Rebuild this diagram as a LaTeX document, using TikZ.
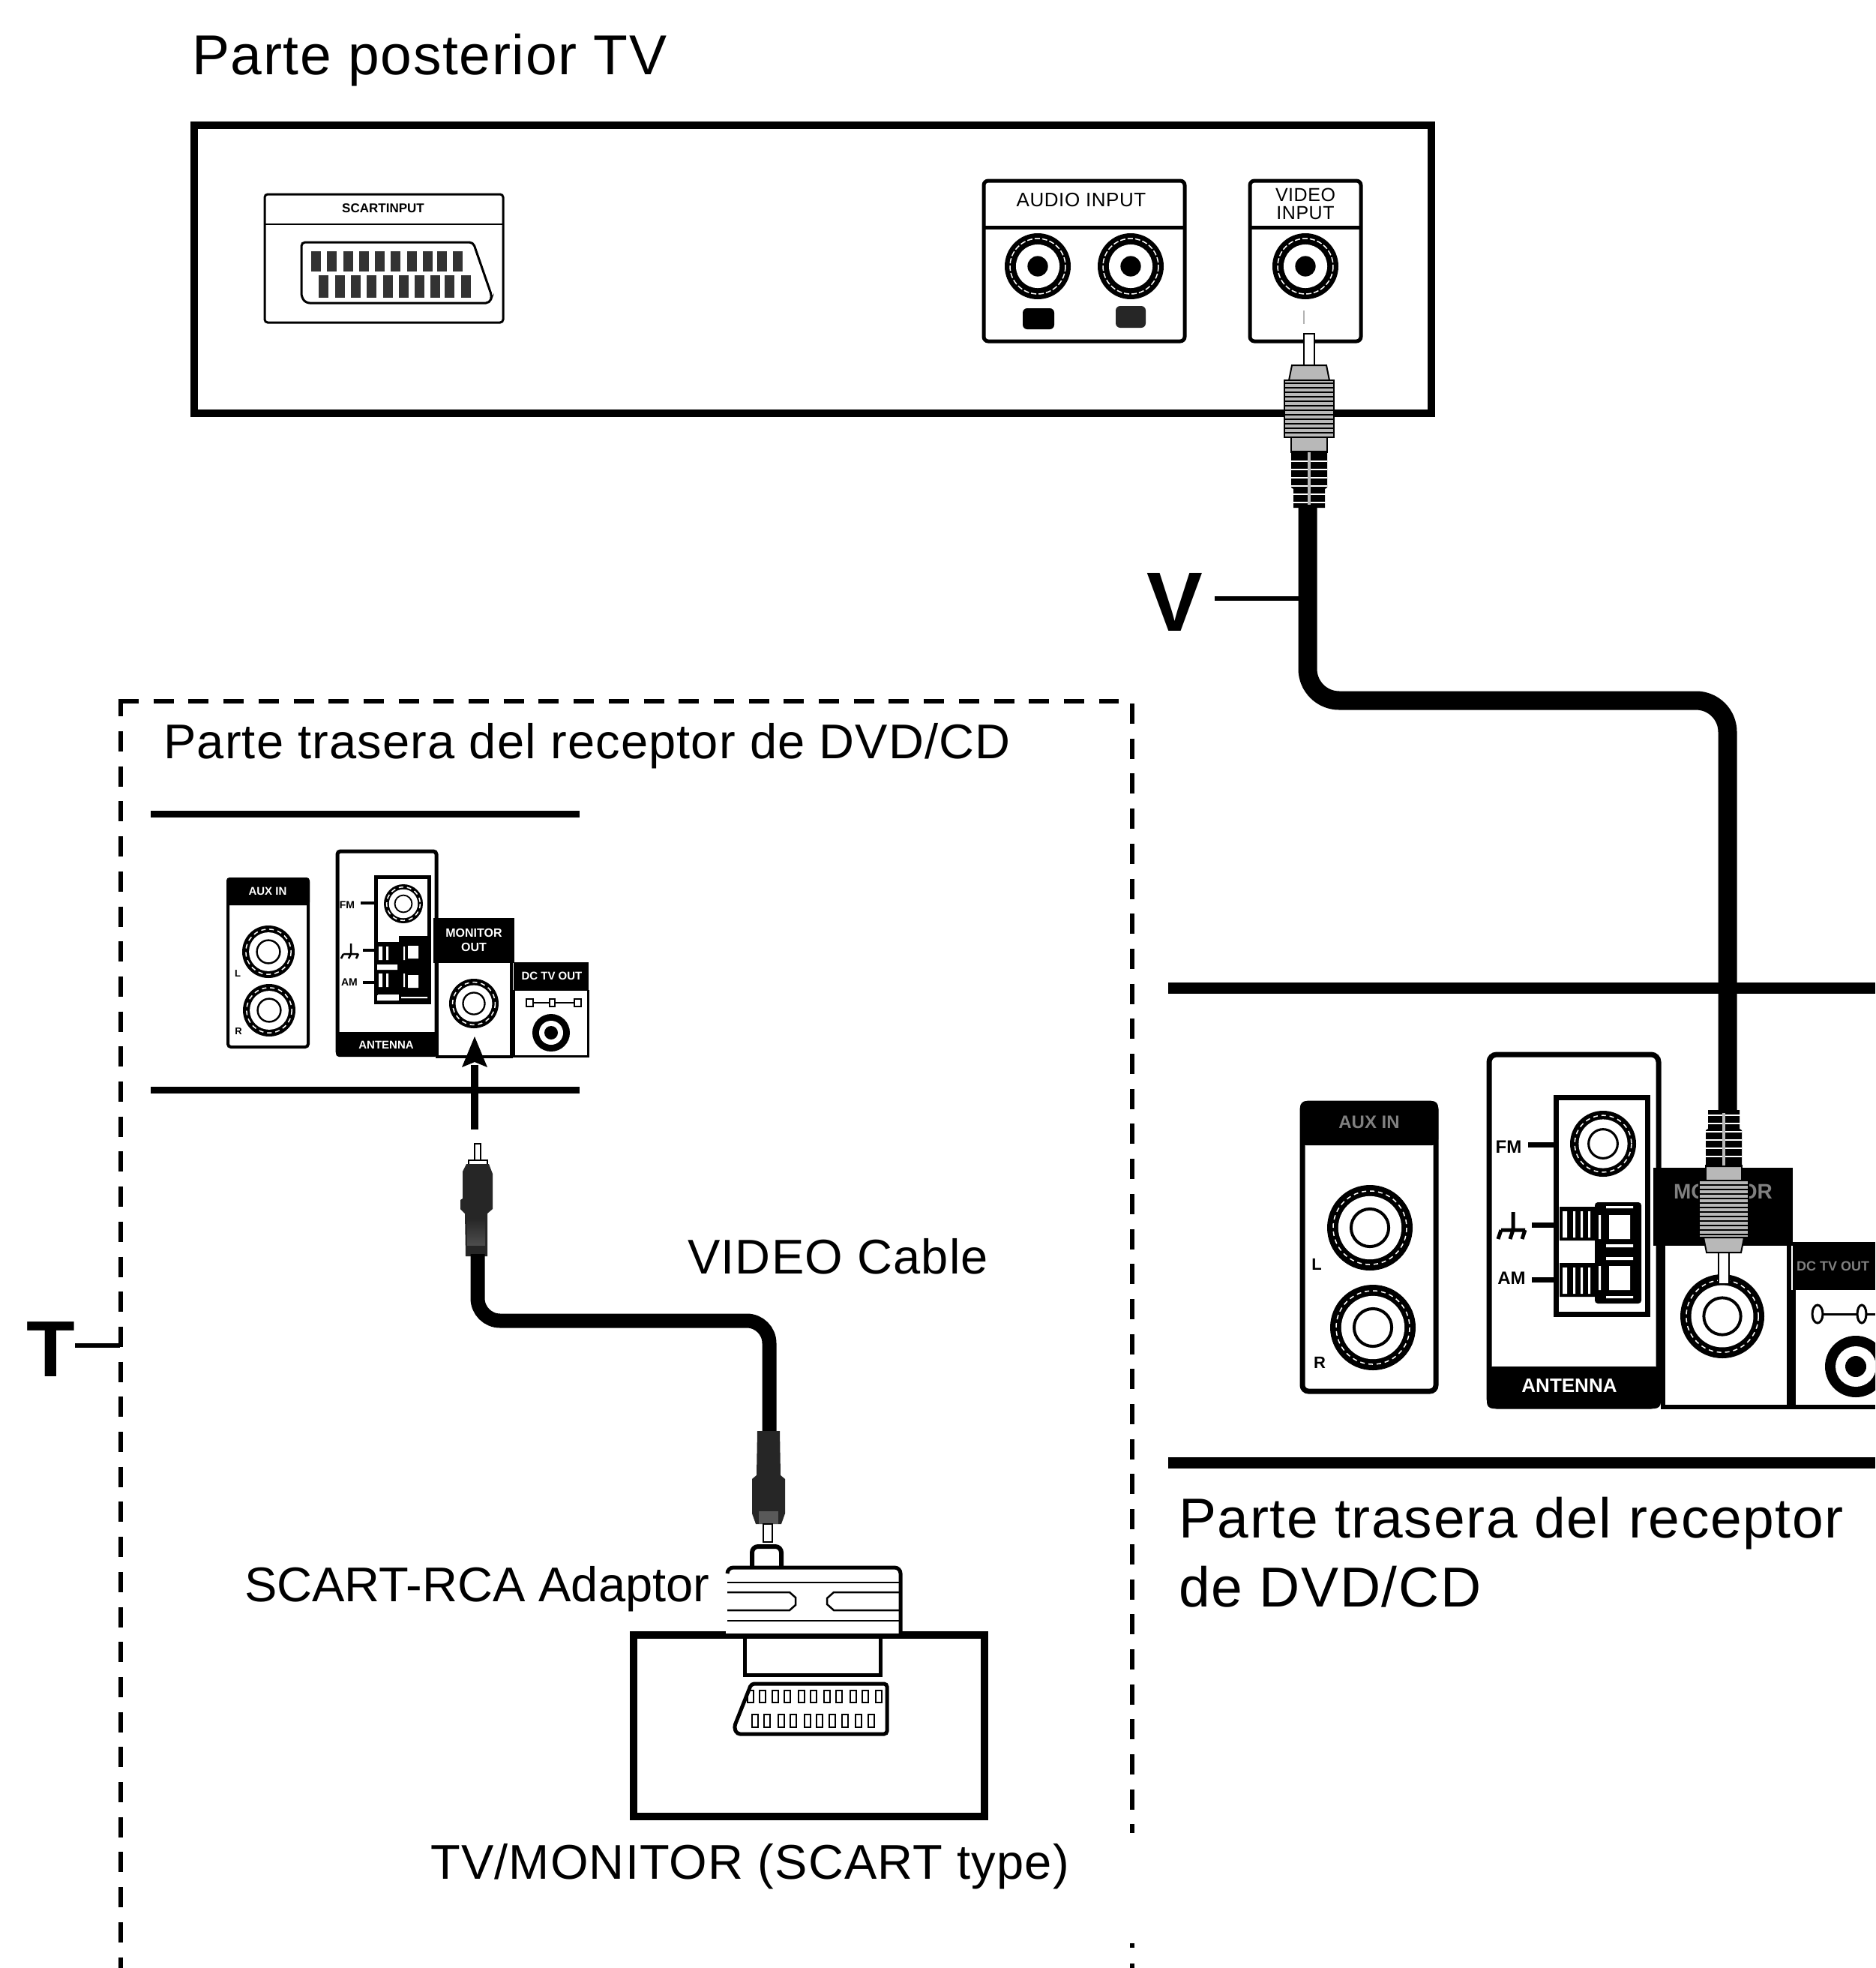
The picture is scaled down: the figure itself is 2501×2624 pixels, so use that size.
\documentclass[tikz,border=0pt]{standalone}
\usepackage{fontspec}
\setmainfont{Liberation Sans}
\newfontfamily\spaced[LetterSpace=1.8]{Liberation Sans}
\newfontfamily\spacedb[LetterSpace=2.2]{Liberation Sans}
\newcommand{\fsz}[1]{\fontsize{#1}{#1}\selectfont}
% TV-type jack: black centre
\newcommand{\jackA}[3]{%
  \fill[black] (#1,#2) circle[radius=#3];
  \draw[white,line width=1.5pt,dash pattern=on 7pt off 3pt] (#1,#2) circle[radius=#3*0.84];
  \fill[white] (#1,#2) circle[radius=#3*0.66];
  \fill[black] (#1,#2) circle[radius=#3*0.31];}
% receiver jack: thin inner ring
\newcommand{\jackB}[3]{%
  \fill[black] (#1,#2) circle[radius=#3];
  \draw[white,line width=1.5pt,dash pattern=on 6pt off 5pt] (#1,#2) circle[radius=#3*0.86];
  \fill[white] (#1,#2) circle[radius=#3*0.74];
  \draw[black,line width=#3*0.07] (#1,#2) circle[radius=#3*0.44];}
% big plug, origin at pin tip, local y towards the cable
\newcommand{\bigplug}[3]{%
\begin{scope}[shift={(#1,#2)},yscale=#3]
  \filldraw[fill=white,draw=black,line width=1.5pt] (-7,0) rectangle (7,42);
  \filldraw[fill=plggray,draw=black,line width=2pt] (-23,42) -- (-27,62) -- (27,62) -- (23,42) -- cycle;
  \filldraw[fill=plggray,draw=black,line width=2pt] (-33,62) rectangle (33,138);
  \foreach \yy in {66,72,...,136}{\draw[black,line width=2pt] (-33,\yy) -- (33,\yy);}
  \filldraw[fill=plggray,draw=black,line width=2pt] (-24,138) rectangle (24,158);
  \fill[black] (-24,156) -- (24,156) -- (24,205) -- (21,207) -- (21,232) -- (-21,232) -- (-21,207) -- (-24,205) -- cycle;
  \foreach \yy in {170,181,...,225}{\draw[white,line width=2pt] (-24,\yy) -- (24,\yy);}
  \draw[plggray,line width=4pt] (0,158) -- (0,228);
\end{scope}}
\definecolor{plggray}{gray}{0.72}
\tikzset{
  txt/.style={anchor=west,inner sep=0pt,text=black},
  tinywhite/.style={inner sep=0pt,text=white,font=\bfseries},
  tinyblack/.style={inner sep=0pt,text=black,font=\bfseries},
  thinpanel/.style={draw=black,line width=3pt,rounded corners=4pt,fill=white},
  panel/.style={draw=black,line width=5pt,rounded corners=6pt,fill=white},
  heavy/.style={draw=black,line width=10pt},
  rule/.style={draw=black,line width=15pt},
  cable/.style={draw=black,line width=25pt,rounded corners=42pt},
  smallcable/.style={draw=black,line width=19pt,rounded corners=30pt},
  leader/.style={draw=black,line width=6pt},
  dashbox/.style={draw=black,line width=6pt,dash pattern=on 27pt off 19.7pt}
}
\begin{document}
\begin{tikzpicture}[x=1pt,y=-1pt]
\useasboundingbox (0,0) rectangle (2501,2624);
\fill[white] (0,0) rectangle (2501,2624);

% ---- TV rear ----
\node[txt,font=\spacedb\fsz{75}] (tvlabel) at (256,80) {Parte posterior TV};
\draw[heavy] (259,167) rectangle (1909,551);
% SCART input
\draw[thinpanel] (353,259) rectangle (671,430);
\draw[black,line width=2.5pt] (353,299) -- (671,299);
\node[tinyblack,font=\bfseries\fsz{17}] (scartlabel) at (511,278) {SCARTINPUT};
\draw[black,line width=3pt,rounded corners=5pt] (402,323) -- (631,323) -- (656,395) -- (653,404) -- (408,404) -- (402,396) -- cycle;
\foreach \xx in {421,442,464,485,506,527,549,570,589,610}{\fill[black!80] (\xx-6.5,335) rectangle (\xx+6.5,362);}
\foreach \xx in {431,453,474,495,517,538,559,580,599,621}{\fill[black!80] (\xx-6.5,367) rectangle (\xx+6.5,397);}
% Audio input
\draw[panel] (1312,241) rectangle (1580,455);
\draw[black,line width=5pt] (1312,303) -- (1580,303);
\node[inner sep=0pt,font=\spacedb\fsz{26}] (audiolabel) at (1442,267) {AUDIO INPUT};
\jackA{1384}{355}{44}
\jackA{1508}{355}{44}
\fill[black,rounded corners=6pt] (1364,411) rectangle (1406,439);
\fill[black!85,rounded corners=6pt] (1488,408) rectangle (1528,437);
% Video input
\draw[panel] (1667,241) rectangle (1815,455);
\draw[black,line width=5pt] (1667,303) -- (1815,303);
\node[inner sep=0pt,font=\spacedb\fsz{25},align=center] (videolabel) at (1741,272) {VIDEO\\[-1pt]INPUT};
\jackA{1741}{355}{44}
\draw[black!30,line width=2pt] (1739,414) -- (1739,432);
\bigplug{1746}{445}{1}

% ---- main cable ----
\coordinate (plugtop) at (1744,675);
\coordinate (plugbot) at (2304,1480);
\draw[cable] (plugtop) -- (1744,934) -- (2304,934) -- (plugbot);
\node[inner sep=0pt,font=\bfseries\fsz{112}] (vlabel) at (1567,803) {V};
\coordinate (vend) at (1733,798);
\draw[leader] (1620,798) -- (vend);

% ---- dashed box ----
\draw[dashbox,dash phase=4.7pt] (160.5,933) -- (160.5,2624);
\draw[dashbox] (158,935) -- (1492,935);
\draw[dashbox] (1510,938) -- (1510,2444);
\draw[black,line width=6pt] (1510,2591) -- (1510,2597) (1510,2618) -- (1510,2624);
\node[inner sep=0pt,font=\bfseries\fsz{106}] (tlabel) at (68,1799) {T};
\coordinate (tend) at (160,1794);
\draw[leader] (100,1794) -- (tend);
\node[txt,font=\spaced\fsz{65}] (rearsmall) at (218,995) {Parte trasera del receptor de DVD/CD};

% ---- small receiver rear ----
\draw[black,line width=9pt] (201,1085) -- (773,1085);
\draw[black,line width=9pt] (201,1453) -- (773,1453);
% AUX
\draw[thinpanel,line width=4pt] (304,1172) rectangle (411,1396);
\fill[black,rounded corners=4pt] (302,1170) rectangle (413,1207);
\node[tinywhite,font=\bfseries\fsz{15}] (auxs) at (357,1188) {AUX IN};
\jackB{358}{1269}{35}
\jackB{359}{1347}{35}
\node[tinyblack,font=\bfseries\fsz{13}] (ls) at (317,1298) {L};
\node[tinyblack,font=\bfseries\fsz{13}] (rs) at (318,1375) {R};
% Antenna
\draw[thinpanel,line width=5pt] (450,1135) rectangle (582,1406);
\fill[black,rounded corners=4pt] (448,1376) rectangle (584,1409);
\node[tinywhite,font=\bfseries\fsz{15}] (ants) at (515,1393) {ANTENNA};
\draw[black,line width=5pt,fill=white] (501,1169) rectangle (572,1336);
\jackB{538}{1205}{26}
\fill[black] (532,1248) rectangle (571,1334);
\fill[black] (503,1256) rectangle (532,1326);
\fill[white] (505,1262) rectangle (510,1280) (515,1262) rectangle (518,1280) (505,1298) rectangle (510,1316) (515,1298) rectangle (518,1316) (503,1286) rectangle (530,1293) (538,1262) rectangle (540,1280) (538,1298) rectangle (540,1316);
\fill[white] (544,1261) rectangle (558,1278) (544,1300) rectangle (558,1317);
\fill[white] (503,1327) rectangle (530,1334) (535,1329) rectangle (570,1331);
\draw[black,line width=4pt] (481,1204) -- (501,1204) (484,1267) -- (501,1267) (484,1310) -- (501,1310);
\node[tinyblack,font=\bfseries\fsz{14}] (fms) at (463,1207) {FM};
\node[tinyblack,font=\bfseries\fsz{14}] (ams) at (466,1310) {AM};
\draw[black,line width=2.5pt] (468,1258) -- (468,1272) (458,1272) -- (478,1272) (458,1272) -- (455,1278) (468,1272) -- (465,1278) (478,1272) -- (475,1278);
% Monitor out
\draw[draw=black,line width=4pt,fill=white] (583,1283) -- (583,1409) -- (682,1409) -- (682,1283);
\fill[black] (578,1224) rectangle (686,1284);
\node[tinywhite,align=center,font=\bfseries\fsz{16}] (mons) at (632,1253) {MONITOR\\[3pt]OUT};
\jackB{632}{1338}{33}
% DC out
\draw[draw=black,line width=3pt,fill=white] (685,1320) -- (685,1408) -- (784,1408) -- (784,1320);
\fill[black] (685,1283) rectangle (785,1321);
\node[tinywhite,font=\bfseries\fsz{15}] (dcs) at (736,1301) {DC TV OUT};
\draw[black,line width=2pt] (706,1337) -- (770,1337);
\draw[black,line width=2pt,fill=white] (702,1332) rectangle (711,1342) (733,1332) rectangle (740,1342) (766,1332) rectangle (775,1342);
\fill[black] (735,1377) circle[radius=25];
\fill[white] (735,1377) circle[radius=16];
\fill[black] (735,1377) circle[radius=9];
% arrow
\coordinate (arrowtail) at (633,1506);
\coordinate (arrowneck) at (633,1420);
\draw[black,line width=10pt] (arrowtail) -- (arrowneck);
\fill[black] (633,1382) -- (650,1423) -- (633,1416) -- (616,1423) -- cycle;

% ---- small plug 1 ----
\filldraw[fill=white,draw=black,line width=1.5pt] (633,1525) rectangle (641,1549);
\filldraw[fill=white,draw=black,line width=1.5pt] (625,1547) rectangle (650,1553);
\fill[black!85] (622,1552) -- (652,1552) -- (657,1565) -- (657,1612) -- (650,1618) -- (650,1675) -- (621,1675) -- (620,1618) -- (614,1612) -- (614,1600) -- (617,1598) -- (617,1562) -- cycle;
\shade[top color=black!85,bottom color=black!70] (623,1625) rectangle (647,1660);

% ---- small cable ----
\coordinate (sp1) at (637,1672);
\coordinate (sp2) at (1026,1910);
\draw[smallcable] (sp1) -- (637,1761) -- (1026,1761) -- (sp2);

% ---- small plug 2 ----
\fill[black!85] (1010,1908) -- (1040,1908) -- (1041,1967) -- (1047,1972) -- (1047,2018) -- (1042,2032) -- (1008,2032) -- (1003,2018) -- (1003,1972) -- (1009,1967) -- cycle;
\fill[black!65] (1012,2015) rectangle (1038,2032);
\filldraw[fill=white,draw=black,line width=1.5pt] (1018,2032) rectangle (1030,2056);

% ---- labels ----
\node[txt,font=\spaced\fsz{65}] (vcable) at (917,1675) {VIDEO Cable};
\node[txt,font=\fsz{65}] (adaptor) at (326,2119) {SCART-RCA Adaptor};
\node[txt,font=\spaced\fsz{65}] (tvmon) at (574,2489) {TV/MONITOR (SCART type)};
\node[txt,font=\spacedb\fsz{75}] (rearbig1) at (1572,2031) {Parte trasera del receptor};
\node[txt,font=\spacedb\fsz{75}] (rearbig2) at (1572,2116) {de DVD/CD};

% ---- TV box + adaptor ----
\draw[heavy] (845,2180) rectangle (1313,2422);
\fill[white] (968,2092) rectangle (1201,2178);
\draw[black,line width=6pt,rounded corners=8pt] (1003,2090) -- (1003,2062) -- (1042,2062) -- (1042,2090);
\draw[black,line width=5pt,rounded corners=8pt] (970,2098) -- (970,2090) -- (1201,2090) -- (1201,2180);
\draw[black,line width=2.5pt] (970,2110) -- (1199,2110) (970,2161) -- (1199,2161);
\draw[black,line width=2.5pt] (970,2123) -- (1053,2123) -- (1061,2130) -- (1061,2140) -- (1053,2147) -- (970,2147);
\draw[black,line width=2.5pt] (1199,2123) -- (1112,2123) -- (1103,2131) -- (1103,2139) -- (1112,2147) -- (1199,2147);
\draw[black,line width=5pt] (993,2180) -- (993,2233) -- (1174,2233) -- (1174,2180);
% SCART plug
\draw[black,line width=5pt,rounded corners=4pt] (1002,2245) -- (1183,2245) -- (1183,2312) -- (983,2312) -- (979,2303) -- cycle;
\foreach \xx in {1001,1017,1034,1050,1069,1085,1103,1119,1138,1154,1172}{\draw[black,line width=2.5pt] (\xx-4,2254) rectangle (\xx+4,2270);}
\foreach \xx in {1007,1023,1042,1058,1077,1093,1110,1127,1145,1162}{\draw[black,line width=2.5pt] (\xx-4,2286) rectangle (\xx+4,2303);}

% ---- big receiver rear ----
\draw[rule] (1558,1317) -- (2501,1317);
\draw[rule] (1558,1950) -- (2501,1950);
% AUX big
\draw[black,line width=7pt,fill=white,rounded corners=8pt] (1737,1471) rectangle (1915,1855);
\fill[black,rounded corners=8pt] (1734,1468) rectangle (1918,1527);
\node[text=black!50,inner sep=0pt,font=\bfseries\fsz{24}] (auxb) at (1826,1496) {AUX IN};
\jackB{1827}{1637}{57}
\jackB{1831}{1770}{57}
\node[tinyblack,font=\bfseries\fsz{22}] (lb) at (1756,1686) {L};
\node[tinyblack,font=\bfseries\fsz{22}] (rb) at (1760,1817) {R};
% Antenna big
\draw[black,line width=7pt,fill=white,rounded corners=10pt] (1986,1406) rectangle (2212,1875);
\fill[black,rounded corners=8pt] (1983,1822) rectangle (2215,1878);
\node[tinywhite,font=\bfseries\fsz{26}] (antb) at (2093,1848) {ANTENNA};
\draw[black,line width=7pt,fill=white] (2075,1463) rectangle (2197,1752);
\jackB{2138}{1525}{44}
\fill[black,rounded corners=4pt] (2127,1603) rectangle (2189,1738);
\fill[black] (2080,1609) rectangle (2130,1654) (2080,1684) rectangle (2130,1729);
\fill[white] (2084,1615) rectangle (2090,1650) (2098,1615) rectangle (2101,1650) (2108,1615) rectangle (2111,1650) (2118,1615) rectangle (2121,1650);
\fill[white] (2084,1690) rectangle (2090,1725) (2098,1690) rectangle (2101,1725) (2108,1690) rectangle (2111,1725) (2118,1690) rectangle (2121,1725);
\fill[white] (2146,1620) rectangle (2174,1652) (2146,1688) rectangle (2174,1720);
\fill[white] (2142,1659) rectangle (2178,1663) (2142,1676) rectangle (2178,1680) (2142,1608) rectangle (2178,1611) (2142,1728) rectangle (2178,1731);
\fill[white] (2132,1620) rectangle (2135,1652) (2132,1688) rectangle (2135,1720);
\draw[black,line width=7pt] (2038,1526) -- (2075,1526) (2043,1633) -- (2075,1633) (2043,1706) -- (2075,1706);
\node[tinyblack,font=\bfseries\fsz{24}] (fmb) at (2012,1529) {FM};
\node[tinyblack,font=\bfseries\fsz{24}] (amb) at (2016,1704) {AM};
\draw[black,line width=5pt] (2018,1616) -- (2018,1640) (2002,1640) -- (2034,1640) (2002,1640) -- (1998,1652) (2018,1640) -- (2014,1652) (2034,1640) -- (2030,1652);
% Monitor big
\draw[draw=black,line width=6pt,fill=white] (2218,1660) -- (2218,1876) -- (2386,1876) -- (2386,1660);
\fill[black] (2205,1557) rectangle (2391,1661);
\node[text=black!50,inner sep=0pt,align=center,font=\bfseries\fsz{28}] (monb) at (2298,1605) {MONITOR\\[4pt]OUT};
\jackB{2297}{1755}{56}
% DC big
\draw[draw=black,line width=6pt,fill=white] (2392,1720) -- (2392,1876) -- (2501,1876);
\fill[black] (2391,1656) rectangle (2501,1720);
\node[text=black!50,inner sep=0pt,font=\bfseries\fsz{18},anchor=west] (dcb) at (2396,1688) {DC TV OUT};
\begin{scope}
\clip (2391,1650) rectangle (2501,1880);
\draw[black,line width=3pt] (2430,1752) -- (2501,1752);
\draw[black,line width=3pt,fill=white] (2424,1752) ellipse[x radius=7,y radius=12];
\draw[black,line width=3pt,fill=white] (2483,1752) ellipse[x radius=6,y radius=12];
\fill[black] (2475,1822) circle[radius=41];
\fill[white] (2475,1822) circle[radius=27];
\fill[black] (2475,1822) circle[radius=14];
\end{scope}
% plug into monitor
\bigplug{2299}{1712}{-1}
\end{tikzpicture}
\end{document}
